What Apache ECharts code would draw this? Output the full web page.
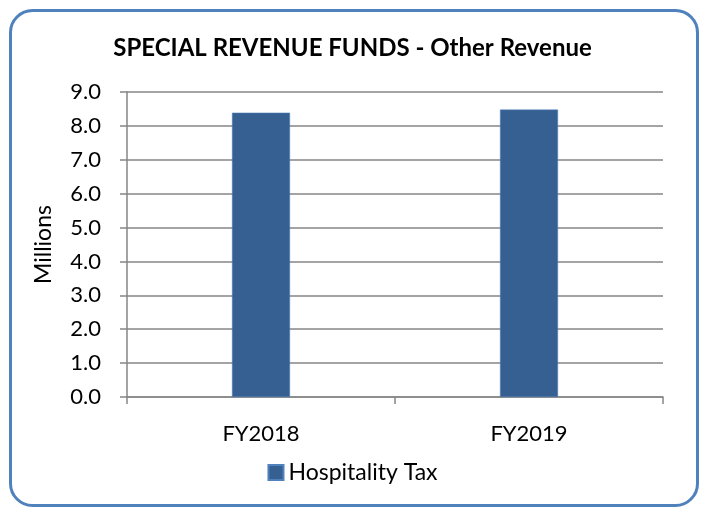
<!DOCTYPE html>
<html><head><meta charset="utf-8">
<script src="https://cdn.jsdelivr.net/npm/echarts@6/dist/echarts.min.js"></script>
<style>
html,body{margin:0;padding:0;background:#fff;}
#c{width:705px;height:509px;}
</style></head>
<body><div id="c"></div>
<script>
const categories = ['FY2018', 'FY2019'];
const hospitalityTax = [8.39, 8.48];
const seriesName = 'Hospitality Tax';

const chart = echarts.init(document.getElementById('c'), null, {renderer: 'canvas'});
const font = 'Lato, "Open Sans", sans-serif';
chart.setOption({
  animation: false,
  backgroundColor: '#fff',
  graphic: [{
    type: 'rect', left: 9, top: 9, z: 0, silent: true,
    shape: {width: 687, height: 495, r: 22},
    style: {fill: '#fff', stroke: '#4F81BD', lineWidth: 3}
  }],
  title: {
    text: 'SPECIAL REVENUE FUNDS - Other Revenue',
    left: 'center', top: 31,
    textStyle: {fontFamily: font, fontWeight: 'bold', fontSize: 24, color: '#000'}
  },
  legend: {
    bottom: 20, left: 'center',
    icon: 'rect', itemWidth: 15, itemHeight: 15, itemGap: 6,
    textStyle: {fontFamily: font, fontSize: 23, color: '#000'},
    data: [seriesName]
  },
  grid: {left: 127, right: 42, top: 92, bottom: 112, containLabel: false,
    show: true, backgroundColor: '#DCE6F2', borderWidth: 0},
  xAxis: {
    type: 'category', data: categories,
    axisLine: {lineStyle: {color: '#868686', width: 1.5}},
    axisTick: {show: true, length: 7, lineStyle: {color: '#868686', width: 1.5}},
    axisLabel: {fontFamily: font, fontSize: 22, color: '#000', margin: 26}
  },
  yAxis: {
    type: 'value', min: 0, max: 9, interval: 1,
    name: 'Millions', nameLocation: 'middle', nameGap: 72,
    nameTextStyle: {fontFamily: font, fontSize: 23, color: '#000'},
    axisLine: {show: true, lineStyle: {color: '#868686', width: 1.5}},
    axisTick: {show: true, length: 7, lineStyle: {color: '#868686', width: 1.5}},
    axisLabel: {fontFamily: font, fontSize: 22, color: '#000', margin: 26,
      formatter: v => v.toFixed(1)},
    splitLine: {lineStyle: {color: '#868686', width: 1.5}}
  },
  series: [{
    name: seriesName, type: 'bar', data: hospitalityTax,
    barWidth: 58,
    itemStyle: {color: '#376092', borderColor: '#4F81BD', borderWidth: 0.5}
  }]
});
</script></body></html>
